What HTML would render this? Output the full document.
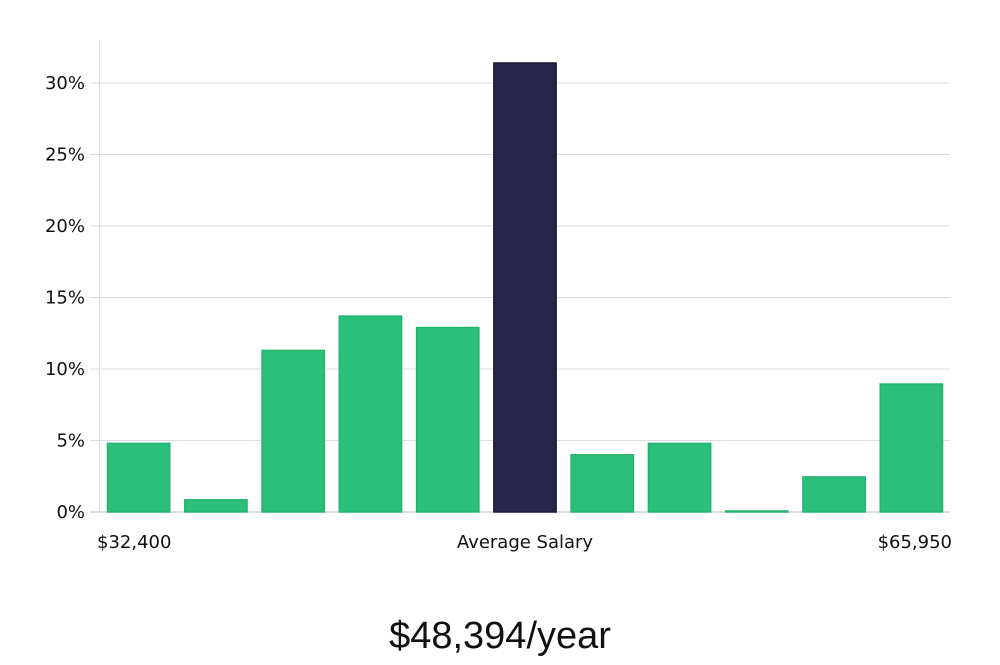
<!DOCTYPE html>
<html><head><meta charset="utf-8"><style>
html,body{margin:0;padding:0;background:#fff;}
body{width:1000px;height:660px;overflow:hidden;}
svg text{font-family:"DejaVu Sans","Liberation Sans",sans-serif;}
</style></head><body>
<svg id="chart" width="1000" height="660" xmlns="http://www.w3.org/2000/svg">
<g id="grid"></g>
<g id="bars"></g>
<g id="yaxis"></g>
<text x="97" y="548" font-size="18" fill="#111">$32,400</text>
<text x="525" y="548" font-size="18" fill="#111" text-anchor="middle">Average Salary</text>
<text x="952" y="548" font-size="18" fill="#111" text-anchor="end">$65,950</text>
<text x="500" y="648" font-size="38" fill="#111" text-anchor="middle" style="font-family:'Liberation Sans',sans-serif;font-weight:300">$48,394/year</text>
</svg>
<script>
const values = [4.8, 0.85, 11.3, 13.7, 12.9, 31.4, 4.0, 4.8, 0.07, 2.45, 8.95];
const highlight = [false, false, false, false, false, true, false, false, false, false, false];
const yTicks = [0, 5, 10, 15, 20, 25, 30];
const yTickLabels = ["0%", "5%", "10%", "15%", "20%", "25%", "30%"];
const NS = "http://www.w3.org/2000/svg";
const x0 = 100, x1 = 950, yBase = 512, pxPer = 14.3;
const y = v => yBase - v * pxPer;
const slot = (x1 - x0) / values.length;
const grid = document.getElementById('grid'), bars = document.getElementById('bars'), yaxis = document.getElementById('yaxis');
function mk(tag, attrs, parent){const e=document.createElementNS(NS,tag);for(const k in attrs)e.setAttribute(k,attrs[k]);parent.appendChild(e);return e;}
yTicks.forEach((t,i)=>{
  const l = mk('line',{x1:90,x2:x1,y1:y(t),y2:y(t),stroke: t===0?'#bbb':'#ddd','stroke-width':1},grid);
  
  
  const tx = mk('text',{x:85,y:y(t)+6,'font-size':18,fill:'#111','text-anchor':'end'},yaxis);
  tx.textContent = yTickLabels[i];
  
  
});
const ax = mk('line',{x1:99.5,x2:99.5,y1:40,y2:yBase,stroke:'#ddd','stroke-width':1},yaxis);


values.forEach((v,i)=>{
  const bx = x0 + i*slot + 7.5, bw = slot - 15;
  const r = mk('rect',{x:bx,y:y(v),width:bw,height:Math.max(v*pxPer,1),fill:highlight[i]?'#28254a':'#2bbf79',stroke:highlight[i]?'#1c1a3a':'#22b56e','stroke-width':1.5},bars);
  
  
});
</script>
</body></html>
